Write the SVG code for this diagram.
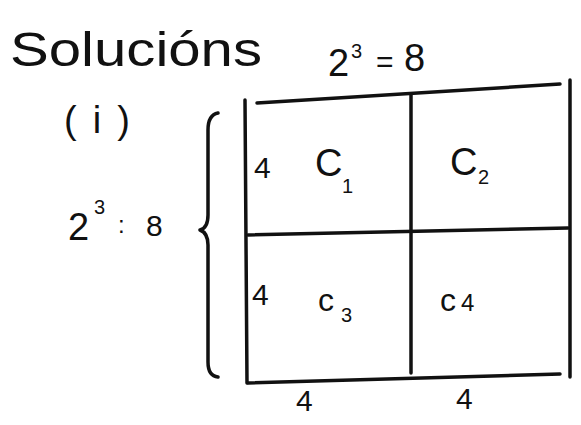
<svg xmlns="http://www.w3.org/2000/svg" width="581" height="425" viewBox="0 0 581 425">
<style>
.ln{stroke:#111;stroke-width:3.5;fill:none;stroke-linecap:round;stroke-linejoin:round}
.t{font-family:"Liberation Sans","DejaVu Sans",sans-serif;fill:#111}
.big{font-size:38px}
.mid{font-size:30px}
.sm{font-size:24px}
.sub{font-size:20px}
</style>
<rect width="581" height="425" fill="#fff"/>
<g id="title">
<text class="t" x="10" y="66" font-size="48" textLength="252" lengthAdjust="spacingAndGlyphs">Solucións</text>
<text class="t big" x="328" y="76">2</text>
<text class="t sub" x="351" y="58">3</text>
<text class="t mid" x="376" y="72">=</text>
<text class="t big" x="404" y="71">8</text>
</g>
<g id="label-i">
<text class="t big" x="64" y="133" textLength="66" lengthAdjust="spacing">(i)</text>
</g>
<g id="left-label">
<text class="t big" x="68" y="240">2</text>
<text class="t sub" x="94" y="214">3</text>
<text class="t sm" x="118" y="233">:</text>
<text class="t mid" x="146" y="236">8</text>
</g>
<g id="brace">
<path class="ln" d="M218,113 Q208,115 208,130 L208,215 Q208,228 200,230 Q208,233 208,245 L208,362 Q208,376 218,377"/>
</g>
<g id="grid">
<path class="ln" d="M245,100 L247,383"/>
<path class="ln" d="M257,103 L560,84"/>
<path class="ln" d="M570,80 L570,377"/>
<path class="ln" d="M411,95 L411,373"/>
<path class="ln" d="M248,235 L568,228"/>
<path class="ln" d="M248,383 L560,374"/>
</g>
<g id="cell-c1">
<text class="t mid" x="254" y="178">4</text>
<text class="t big" x="315" y="176">C</text>
<text class="t sub" x="342" y="193">1</text>
</g>
<g id="cell-c2">
<text class="t big" x="450" y="175">C</text>
<text class="t sub" x="478" y="184">2</text>
</g>
<g id="cell-c3">
<text class="t mid" x="252" y="305">4</text>
<text class="t" font-size="32" x="318" y="311">c</text>
<text class="t sub" x="341" y="322">3</text>
</g>
<g id="cell-c4">
<text class="t" font-size="32" x="440" y="311">c</text>
<text class="t sm" x="461" y="311">4</text>
</g>
<g id="bottom-labels">
<text class="t mid" x="296" y="411">4</text>
<text class="t mid" x="456" y="409">4</text>
</g>
</svg>
